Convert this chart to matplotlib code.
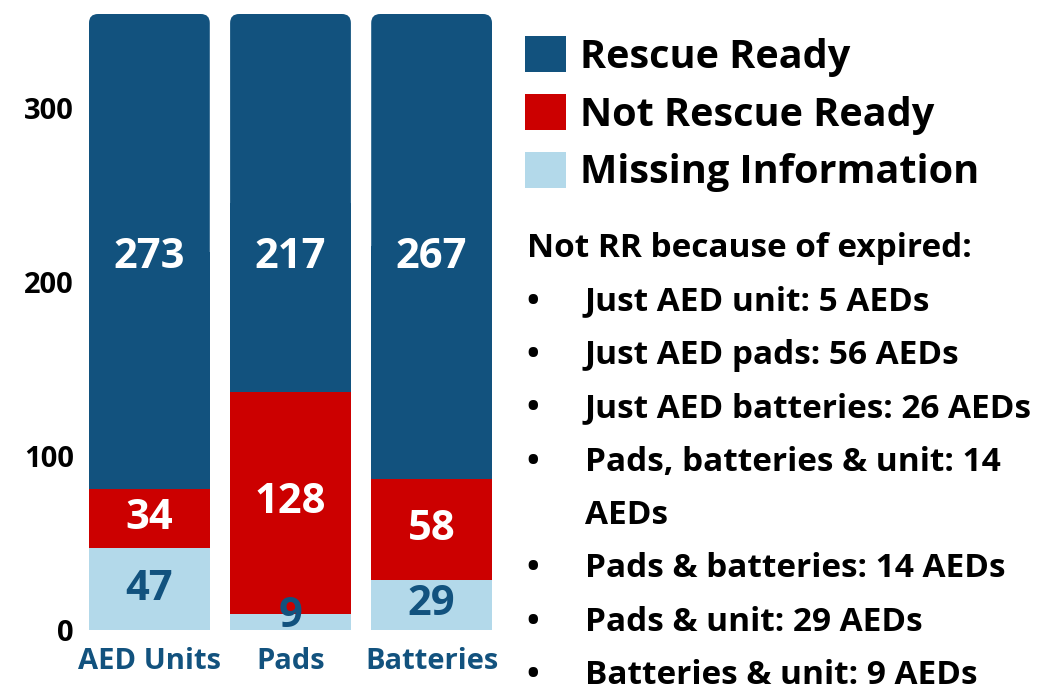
import matplotlib
matplotlib.use("Agg")
import matplotlib.pyplot as plt
from matplotlib.patches import FancyBboxPatch, Rectangle, Patch
import numpy as np

plt.rcParams['font.family'] = ['Open Sans', 'DejaVu Sans']
plt.rcParams['font.weight'] = 'bold'

categories = ["AED Units", "Pads", "Batteries"]
missing_info = [47, 9, 29]
not_ready = [34, 128, 58]
rescue_ready = [273, 217, 267]

notes_title = "Not RR because of expired:"
notes = [
    ("•", "Just AED unit: 5 AEDs"),
    ("•", "Just AED pads: 56 AEDs"),
    ("•", "Just AED batteries: 26 AEDs"),
    ("•", "Pads, batteries & unit: 14"),
    ("", "AEDs"),
    ("•", "Pads & batteries: 14 AEDs"),
    ("•", "Pads & unit: 29 AEDs"),
    ("•", "Batteries & unit: 9 AEDs"),
]

c_ready = "#12527e"
c_not = "#cc0000"
c_miss = "#b3d9ea"

W, H = 1042, 691
fig = plt.figure(figsize=(W / 100, H / 100), dpi=100)
ax = fig.add_axes([89 / W, (H - 630) / H, (492 - 89) / W, 616 / H])

x = np.arange(len(categories))
bw = 0.856
miss = np.array(missing_info)
nr = np.array(not_ready)
rr = np.array(rescue_ready)

b1 = ax.bar(x, miss, bw, color=c_miss)
b2 = ax.bar(x, nr, bw, bottom=miss, color=c_not)
b3 = ax.bar(x, rr, bw, bottom=miss + nr, color=c_ready)

ax.set_xlim(-0.428, 2.428)
ax.set_ylim(0, 354)

# round the top corners of the upper segment
px_x = (492 - 89) / 2.856
px_y = 616 / 354
for r in b3:
    r.set_visible(False)
    x0, y0, w, h = r.get_x(), r.get_y(), r.get_width(), r.get_height()
    rad = 9 / px_x
    ax.add_patch(FancyBboxPatch((x0, y0), w, h,
                                boxstyle=f"round,pad=0,rounding_size={rad}",
                                mutation_aspect=px_x / px_y,
                                facecolor=c_ready, edgecolor="none"))
    ax.add_patch(Rectangle((x0, y0), w, h / 2, facecolor=c_ready, edgecolor="none"))

for i in range(len(categories)):
    # top labels sit at a common height in the original
    ax.text(x[i], 214, str(rr[i]), ha="center", va="center",
            color="white", fontsize=30, fontweight="bold")
    ax.text(x[i], miss[i] + nr[i] / 2, str(nr[i]), ha="center", va="center",
            color="white", fontsize=30, fontweight="bold")
    ypos = miss[i] / 2 if miss[i] > 15 else 8
    ax.text(x[i], ypos, str(miss[i]), ha="center", va="center",
            color=c_ready, fontsize=30, fontweight="bold")

ax.set_xticks(x)
ax.set_xticklabels(categories, color=c_ready, fontsize=21, fontweight="bold")
ax.set_yticks([0, 100, 200, 300])
ax.set_yticklabels(["0", "100", "200", "300"], fontsize=21, fontweight="bold")
ax.tick_params(axis="both", length=0)
ax.tick_params(axis="y", pad=11)
ax.tick_params(axis="x", pad=12)
for s in ax.spines.values():
    s.set_visible(False)

handles = [Patch(facecolor=c_ready), Patch(facecolor=c_not), Patch(facecolor=c_miss)]
fig.legend(handles, ["Rescue Ready", "Not Rescue Ready", "Missing Information"],
           loc="upper left", bbox_to_anchor=(525 / W, 1 - 36 / H), frameon=False,
           handlelength=1.04, handleheight=1.04, handletextpad=0.35,
           labelspacing=0.43, borderaxespad=0, borderpad=0,
           prop={"weight": "bold", "size": 28.5})

fig.text(527 / W, 1 - 249 / H, notes_title, fontsize=24, fontweight="bold", va="center")
y = 302
for bullet, line in notes:
    if bullet:
        fig.text(533 / W, 1 - y / H, bullet, fontsize=24, fontweight="bold", va="center", ha="center")
    fig.text(585 / W, 1 - y / H, line, fontsize=24, fontweight="bold", va="center")
    y += 53.4

fig.savefig("out.png", dpi=100)
